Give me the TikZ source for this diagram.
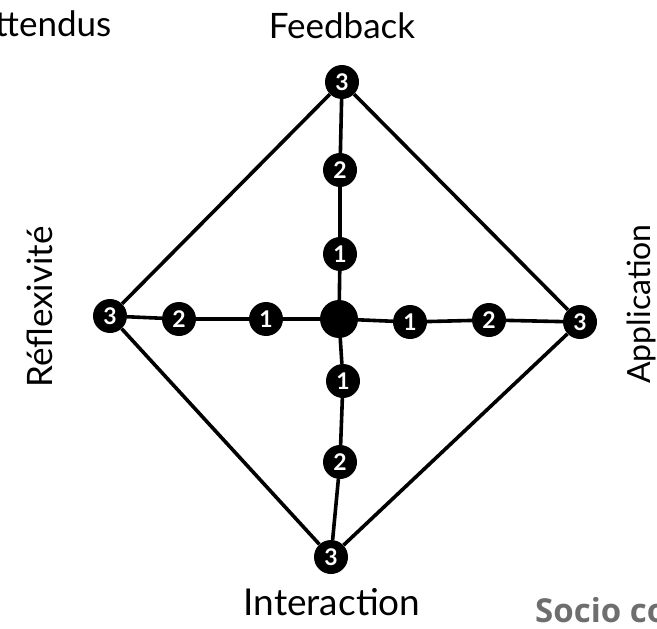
\documentclass[tikz,border=0pt]{standalone}
\usepackage{fontspec}
\setmainfont{Lato}
\newfontfamily\opensans{Open Sans}
\usepackage{xcolor}
\usepackage{tikz}
\usetikzlibrary{positioning}

\definecolor{sociogray}{RGB}{110,110,110}

\begin{document}
\begin{tikzpicture}[x=1pt, y=-1pt,
    link/.style={line width=3.6pt, black},
    lvl/.style={circle, fill=black, inner sep=0pt, minimum size=34pt, text=white,
        font=\bfseries\fontsize{23}{23}\selectfont},
    hub/.style={circle, fill=black, inner sep=0pt, minimum size=38pt},
    axislabel/.style={font=\fontsize{35}{35}\selectfont}]
    \useasboundingbox (0,0) rectangle (657,629);
    \clip (0,0) rectangle (657,629);

    % Levels
    \node[hub] (ctr) at (339,319) {};
    \node[lvl] (fb3) at (342,82) {3};
    \node[lvl] (fb2) at (340,170) {2};
    \node[lvl] (fb1) at (340,254) {1};
    \node[lvl] (in1) at (343,381) {1};
    \node[lvl] (in2) at (340,462) {2};
    \node[lvl] (in3) at (331,557) {3};
    \node[lvl] (re3) at (110,316) {3};
    \node[lvl] (re2) at (179,319) {2};
    \node[lvl] (re1) at (266,319) {1};
    \node[lvl] (ap1) at (410,322) {1};
    \node[lvl] (ap2) at (489,320) {2};
    \node[lvl] (ap3) at (580,322) {3};

    % Axes
    \draw[link] (fb3) -- (fb2) -- (fb1) -- (ctr) -- (in1) -- (in2) -- (in3);
    \draw[link] (re3) -- (re2) -- (re1) -- (ctr) -- (ap1) -- (ap2) -- (ap3);

    % Diamond
    \draw[link] (fb3) -- (re3) -- (in3) -- (ap3) -- (fb3);

    % Labels
    \node[axislabel] (fb) at (342,26) {Feedback};
    \node[axislabel, font=\fontsize{37}{37}\selectfont] (in) at (332,602) {Interaction};
    \node[axislabel, rotate=90] (re) at (40,307) {Réflexivité};
    \node[axislabel, font=\fontsize{32}{32}\selectfont, rotate=90] (ap) at (641,304) {Application};

    % Cut text
    \node[anchor=base west, inner sep=0pt, font=\fontsize{35}{35}\selectfont] (att) at (-5,37) {ttendus};
    \node[anchor=base west, inner sep=0pt, text=sociogray,
        font=\opensans\bfseries\fontsize{33}{33}\selectfont] (soc) at (535,622) {Socio co};
\end{tikzpicture}
\end{document}
